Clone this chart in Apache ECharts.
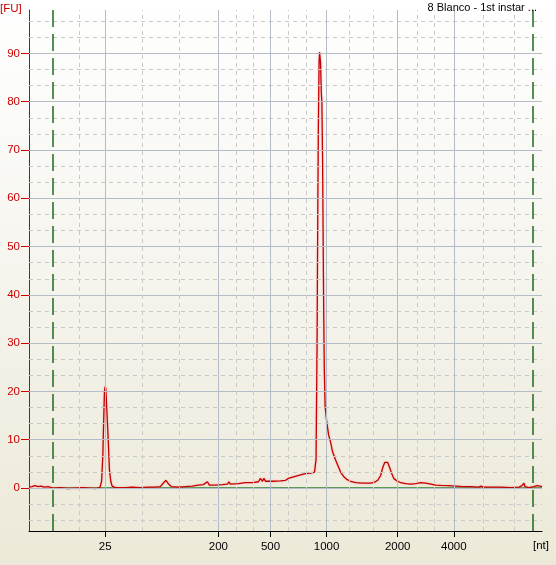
<!DOCTYPE html>
<html><head><meta charset="utf-8">
<script src="https://cdn.jsdelivr.net/npm/echarts@6/dist/echarts.min.js"></script>
<style>
html,body{margin:0;padding:0;}
#c{width:556px;height:565px;background:linear-gradient(to bottom,#ffffff 0%,#f6f5ef 45%,#ece9d8 100%);}
</style></head>
<body><div id="c"></div>
<script>
// migration-time axis (s) and ladder tick labels
const ladderTimes = [26.6, 37.9, 43.1, 48.7, 55.8, 61.4];
const ladderLabels = ['25', '200', '500', '1000', '2000', '4000'];
const minorTimes = [24.0, 30.3, 34.0, 39.7, 41.4, 44.9, 46.7, 51.0, 53.4, 57.7, 59.4, 64.3, 67.4];
const markerTimes = [21.4, 69.3];
const fuTicks = [0, 10, 20, 30, 40, 50, 60, 70, 80, 90];
const fuMinor = [-6.67, -3.33, 3.33, 6.67, 13.33, 16.67, 23.33, 26.67, 33.33, 36.67, 43.33, 46.67, 53.33, 56.67, 63.33, 66.67, 73.33, 76.67, 83.33, 86.67, 93.33, 96.67];
const traceTime = [19.0,19.3,19.6,19.9,20.2,20.5,20.9,21.4,22.1,22.9,23.6,24.3,25.1,25.7,26.1,26.25,26.37,26.43,26.53,26.6,26.67,26.77,26.9,27.03,27.17,27.3,27.6,28.6,29.3,30.1,30.9,31.6,32.1,32.4,32.67,32.9,33.2,33.9,34.6,35.3,35.9,36.4,36.8,37.0,37.6,38.3,38.8,38.95,39.1,39.9,40.6,41.3,41.9,42.1,42.3,42.45,42.6,43.3,44.1,44.6,44.9,45.4,46.1,46.6,47.1,47.5,47.65,47.75,47.83,47.88,47.95,48.0,48.1,48.17,48.23,48.3,48.4,48.47,48.55,48.7,48.9,49.1,49.3,49.6,49.9,50.1,50.4,50.7,51.1,51.6,52.3,53.1,53.5,53.8,54.1,54.3,54.5,54.67,54.8,55.0,55.2,55.4,55.7,56.1,56.6,57.1,57.6,58.1,58.6,59.1,59.6,60.1,60.8,61.6,62.3,63.1,63.9,64.1,64.3,65.1,66.1,67.1,67.9,68.2,68.4,68.5,68.9,69.4,69.7,70.0,70.2];
const traceFU = [0.2,0.3,0.5,0.3,0.4,0.2,0.3,0.0,0.1,-0.1,0.0,0.1,0.0,-0.1,0.2,1.5,6.8,12,20,21,20.5,16,10.3,3.7,1.3,0.4,0.1,0.1,0.2,0.1,0.2,0.2,0.3,1.0,1.6,0.9,0.3,0.2,0.3,0.4,0.6,0.7,1.3,0.6,0.6,0.7,0.8,1.3,0.8,0.9,1.1,1.1,1.3,2.0,1.4,2.0,1.4,1.4,1.5,1.6,2.0,2.3,2.7,3.0,3.1,3.3,6,30,60,75,88,90.3,88,82,80,68,40,25,17,14,11,9.5,7.5,5.8,4.3,3.3,2.4,1.8,1.4,1.1,1.0,1.0,1.2,1.6,2.6,4.2,5.3,5.6,5.3,4.2,3.0,2.0,1.5,1.1,0.9,0.8,0.9,1.1,1.0,0.8,0.6,0.55,0.5,0.4,0.3,0.3,0.2,0.4,0.2,0.2,0.2,0.1,0.2,0.5,1.0,0.3,0.1,0.3,0.5,0.4,0.3];
const baselineTime = [21.4, 70.2];
const baselineFU = [0, 0];

const trace = traceTime.map((t, i) => [t, traceFU[i]]);
const baseline = baselineTime.map((t, i) => [t, baselineFU[i]]);

const font = '"Liberation Sans", Arial, sans-serif';
const chart = echarts.init(document.getElementById('c'), null, {renderer: 'canvas'});
const solidGrid = {color: '#b4bcc8', width: 1, type: 'solid'};
const dashGrid = {color: '#c9c9c9', width: 1, type: [4, 4]};
const gridLines = []
  .concat(fuTicks.map(v => ({yAxis: v, lineStyle: solidGrid})))
  .concat(fuMinor.map(v => ({yAxis: v, lineStyle: dashGrid})))
  .concat(ladderTimes.map(v => ({xAxis: v, lineStyle: solidGrid})))
  .concat(minorTimes.map(v => ({xAxis: v, lineStyle: dashGrid})));
const markerLines = markerTimes.map(v => ({xAxis: v}));

chart.setOption({
  animation: false,
  backgroundColor: 'transparent',
  title: [
    {text: '[FU]', left: 0, top: 3, padding: 0, textStyle: {color: '#cc0000', fontSize: 11.5, fontWeight: 'normal', fontFamily: font}},
    {text: '8 Blanco - 1st instar ...', right: 19, top: 2, padding: 0, textStyle: {color: '#000', fontSize: 11, fontWeight: 'normal', fontFamily: font}},
    {text: '[nt]', left: 533, top: 540, padding: 0, textStyle: {color: '#000', fontSize: 11.5, fontWeight: 'normal', fontFamily: font}}
  ],
  grid: {left: 29, right: 14, top: 10, bottom: 34, containLabel: false},
  xAxis: {
    type: 'value', min: 19, max: 70.2,
    axisLine: {show: true, onZero: false, lineStyle: {color: '#000', width: 1}},
    axisTick: {show: true, length: 6, customValues: ladderTimes, lineStyle: {color: '#000'}},
    axisLabel: {customValues: ladderTimes, margin: 10, color: '#000', fontSize: 11.5, fontFamily: font,
      formatter: v => { let k = 0, d = 1e9; ladderTimes.forEach((t, i) => { if (Math.abs(t - v) < d) { d = Math.abs(t - v); k = i; } }); return ladderLabels[k]; }},
    splitLine: {show: false}
  },
  yAxis: {
    type: 'value', min: -8.9, max: 99,
    axisLine: {show: true, onZero: false, lineStyle: {color: '#cc0000', width: 1}},
    axisTick: {show: true, length: 8, customValues: fuTicks, lineStyle: {color: '#cc0000'}},
    axisLabel: {customValues: fuTicks, margin: 9, color: '#cc0000', fontSize: 11.5, fontFamily: font},
    splitLine: {show: false}
  },
  series: [
    {type: 'line', data: [], z: 1, silent: true,
      markLine: {silent: true, symbol: ['none', 'none'], label: {show: false}, animation: false, data: gridLines}},
    {type: 'line', data: baseline, z: 2, silent: true, showSymbol: false,
      lineStyle: {color: '#2a7f2a', width: 1.5},
      markLine: {silent: true, symbol: ['none', 'none'], label: {show: false}, animation: false,
        lineStyle: {color: '#1d6b1d', width: 1.5, type: [17, 7]}, data: markerLines}},
    {type: 'line', data: trace, z: 3, silent: true, showSymbol: false,
      lineStyle: {color: '#c40000', width: 1.3, shadowColor: 'rgba(255,130,130,0.6)', shadowBlur: 2}}
  ]
});
</script></body></html>
